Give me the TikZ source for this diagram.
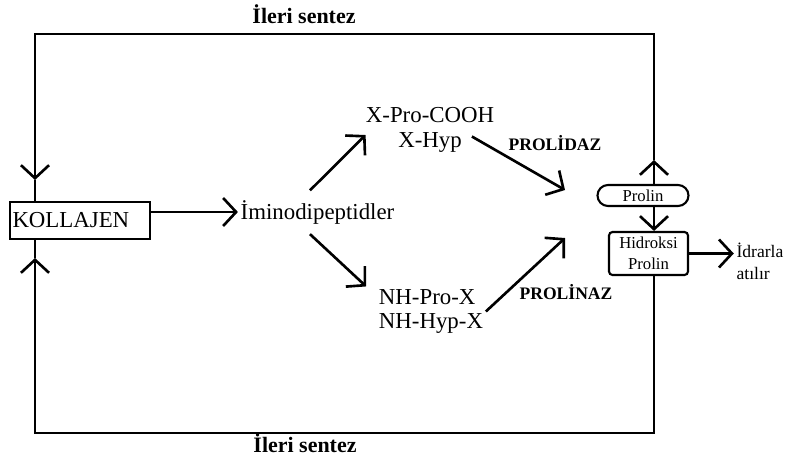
\documentclass[tikz,border=0pt]{standalone}
\usepackage{fontspec}
\setmainfont{Liberation Serif}
\usetikzlibrary{arrows.meta,calc}

\begin{document}
\begin{tikzpicture}[line width=1.2pt,
    barb/.style={-{Straight Barb[length=0.26cm,width=0.56cm,line width=1.5pt]}},
    lbl/.style={font=\fontsize{13}{14}\selectfont,inner sep=1pt},
    enz/.style={font=\fontsize{10}{12}\selectfont\bfseries,inner sep=1pt},
    tiny/.style={font=\fontsize{9.5}{12}\selectfont,inner sep=0pt}]
  \useasboundingbox (0,0) rectangle (15.74,-9.32);
  % corners of the loop
  \coordinate (tl) at (0.70,-0.68);
  \coordinate (tr) at (13.08,-0.68);
  \coordinate (bl) at (0.70,-8.66);
  \coordinate (br) at (13.08,-8.66);
  % Kollajen
  \node[draw,minimum width=2.8cm,minimum height=0.74cm,text width=2.7cm,
        align=left,inner xsep=1pt,font=\fontsize{13}{15}\selectfont]
        (kol) at (1.60,-4.41) {KOLLAJEN};
  \node[lbl] (imino) at (6.35,-4.24) {İminodipeptidler};
  % Dipeptides
  \node[lbl,align=center] (xpro) at (8.60,-2.60) {X-Pro-COOH\\X-Hyp};
  \node[lbl,align=left] (nhpro) at (8.62,-6.23) {NH-Pro-X\\NH-Hyp-X};
  \node[enz] (prolidaz) at (11.10,-2.86) {PROLİDAZ};
  \node[enz] (prolinaz) at (11.32,-5.84) {PROLİNAZ};
  % Prolin and Hidroksi Prolin
  \node[draw,tiny,rounded corners=0.21cm,minimum width=1.82cm,minimum height=0.42cm]
        (prolin) at (12.86,-3.91) {Prolin};
  \node[draw,tiny,rounded corners=2pt,minimum width=1.58cm,minimum height=0.86cm,
        align=center] (hyp) at (12.97,-5.07) {Hidroksi\\Prolin};
  \node[font=\fontsize{10}{12.5}\selectfont,inner sep=1pt,align=left]
        (idrar) at (15.20,-5.22) {İdrarla\\atılır};
  % Ileri sentez
  \node[font=\fontsize{12.5}{14}\selectfont\bfseries] (ust) at (6.08,-0.28) {İleri sentez};
  \node[font=\fontsize{12.5}{14}\selectfont\bfseries] (alt) at (6.10,-8.86) {İleri sentez};
  % arrow tips on the loop
  \coordinate (pup) at (13.08,-3.20);
  \coordinate (kdn) at (0.70,-3.60);
  \coordinate (kup) at (0.70,-5.16);
  \coordinate (pd) at (11.30,-3.80);
  \coordinate (pn) at (11.30,-4.76);

  \draw[barb] (kol.east |- imino.west) -- (imino.west);
  \draw[barb,line width=1.5pt] ($(imino.north)+(-0.15,0.14)$) -- ($(xpro.west)+(0.05,-0.10)$);
  \draw[barb,line width=1.5pt] ($(imino.south)+(-0.15,-0.15)$) -- ($(nhpro.north west)+(-0.20,0)$);
  \draw[barb,line width=1.5pt] ($(xpro.east)+(-0.50,-0.13)$) -- (pd);
  \draw[barb,line width=1.5pt] (nhpro.east) -- (pn);
  % loop
  \draw[barb] (prolin.north -| tr) -- (pup);
  \draw[barb] (pup) -- (tr) -- (tl) -- (kdn);
  \draw (kdn) -- (kol.north -| tl);
  \draw[barb] (hyp.south -| br) -- (br) -- (bl) -- (kup);
  \draw (kup) -- (kol.south -| bl);
  \draw[barb] (prolin.south -| tr) -- (hyp.north -| tr);
  \draw[barb] (hyp.east) -- (hyp.east -| idrar.west);
\end{tikzpicture}
\end{document}
